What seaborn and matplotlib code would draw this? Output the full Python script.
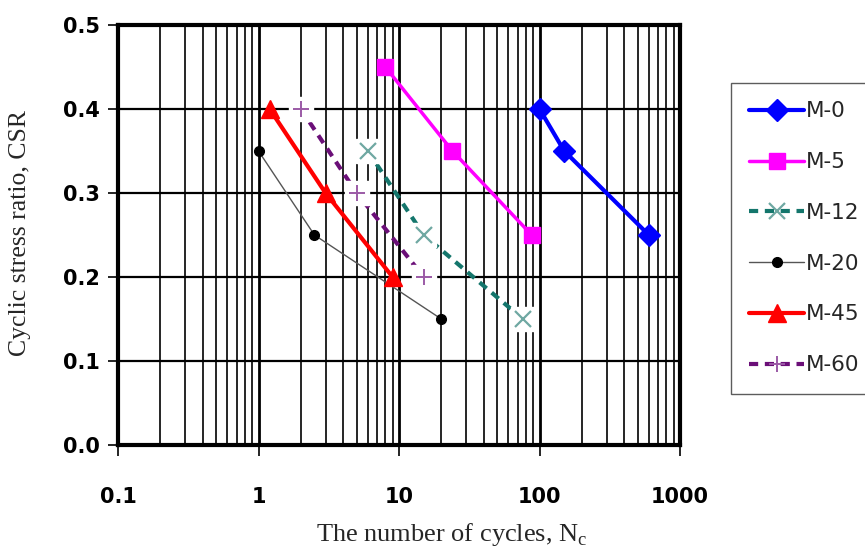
import matplotlib
matplotlib.use("Agg")
import matplotlib.pyplot as plt
import matplotlib.ticker as mticker
import numpy as np
import pandas as pd
import seaborn as sns

# Cyclic stress ratio versus number of cycles to liquefaction
series_names = ["M-0", "M-5", "M-12", "M-20", "M-45", "M-60"]
m0_cycles = [100, 150, 600]
m0_csr = [0.40, 0.35, 0.25]
m5_cycles = [8, 24, 88]
m5_csr = [0.45, 0.35, 0.25]
m12_cycles = [6, 15, 76]
m12_csr = [0.35, 0.25, 0.15]
m20_cycles = [1.0, 2.5, 20]
m20_csr = [0.35, 0.25, 0.15]
m45_cycles = [1.2, 3, 9]
m45_csr = [0.40, 0.30, 0.20]
m60_cycles = [2, 5, 15]
m60_csr = [0.40, 0.30, 0.20]

cycles = [m0_cycles, m5_cycles, m12_cycles, m20_cycles, m45_cycles, m60_cycles]
csr = [m0_csr, m5_csr, m12_csr, m20_csr, m45_csr, m60_csr]

styles = {
    "M-0":  dict(color="#0000FF", lw=3.0, ls="-", marker="D", ms=11, mfc="#0000FF", mec="#0000FF", mew=1, halo=False),
    "M-5":  dict(color="#FF00FF", lw=2.5, ls="-", marker="s", ms=12, mfc="#FF00FF", mec="#FF00FF", mew=1, halo=False),
    "M-12": dict(color="#14766C", lw=3.0, ls=(0, (2.2, 1.6)), marker="x", ms=12, mfc="#6FA8A2", mec="#6FA8A2", mew=1.6, halo=True),
    "M-20": dict(color="#555555", lw=1.0, ls="-", marker="o", ms=7, mfc="black", mec="black", mew=1, halo=False),
    "M-45": dict(color="#FF0000", lw=3.0, ls="-", marker="^", ms=13, mfc="#FF0000", mec="#FF0000", mew=1, halo=False),
    "M-60": dict(color="#6B0F78", lw=3.0, ls=(0, (2.2, 1.6)), marker="+", ms=12, mfc="#9B5AA6", mec="#9B5AA6", mew=1.4, halo=True),
}

frames = []
for name, xs, ys in zip(series_names, cycles, csr):
    frames.append(pd.DataFrame({"series": name, "N": xs, "CSR": ys}))
df = pd.concat(frames, ignore_index=True)

sns.set_style("white")
plt.rcParams["font.family"] = ["DejaVu Sans"]

fig = plt.figure(figsize=(8.65, 5.5), dpi=100)
ax = fig.add_axes([118 / 865, 1 - 445 / 550, (680 - 118) / 865, (445 - 25) / 550])

for name in series_names:
    st = styles[name]
    sub = df[df["series"] == name]
    sns.lineplot(data=sub, x="N", y="CSR", ax=ax, color=st["color"], lw=st["lw"],
                 linestyle=st["ls"], marker=st["marker"], markersize=st["ms"],
                 markerfacecolor=st["mfc"], markeredgecolor=st["mec"],
                 markeredgewidth=st["mew"], label=name, zorder=4, estimator=None,
                 sort=False)
    if st["halo"]:
        # white patch behind open markers, as in spreadsheet-style charts
        ax.plot(sub["N"], sub["CSR"], ls="none", marker="s", ms=17,
                mfc="white", mec="white", zorder=4.5)
        ax.plot(sub["N"], sub["CSR"], ls="none", marker=st["marker"], ms=st["ms"],
                mec=st["mec"], mew=st["mew"], zorder=5)

ax.set_xscale("log")
ax.set_xlim(0.1, 1000)
ax.set_ylim(0.0, 0.5)

ax.xaxis.set_major_locator(mticker.LogLocator(base=10, numticks=10))
ax.xaxis.set_minor_locator(mticker.LogLocator(base=10, subs=np.arange(2, 10), numticks=20))
ax.xaxis.set_major_formatter(mticker.FuncFormatter(lambda v, p: f"{v:g}"))
ax.xaxis.set_minor_formatter(mticker.NullFormatter())
ax.yaxis.set_major_locator(mticker.MultipleLocator(0.1))
ax.yaxis.set_major_formatter(mticker.FormatStrFormatter("%.1f"))

ax.grid(True, which="major", axis="x", color="black", lw=2.0)
ax.grid(True, which="major", axis="y", color="black", lw=1.6)
ax.grid(True, which="minor", axis="x", color="black", lw=1.2)
ax.set_axisbelow(True)

for sp in ax.spines.values():
    sp.set_visible(True)
    sp.set_color("black")
    sp.set_linewidth(3)
    sp.set_zorder(6)

ax.tick_params(axis="x", which="major", direction="out", length=8, width=1.2,
               pad=22, labelsize=15, bottom=True, colors="black")
ax.tick_params(axis="x", which="minor", length=0)
ax.tick_params(axis="y", which="major", direction="out", length=7, width=1.2,
               pad=6, labelsize=15, left=True, colors="black")
for lab in ax.get_xticklabels() + ax.get_yticklabels():
    lab.set_fontweight("bold")

ax.set_xlabel("The number of cycles, N$_\\mathregular{c}$", family="Liberation Serif",
              fontsize=19, labelpad=10)
ax.xaxis.label.set_x(0.594)
ax.set_ylabel("Cyclic stress ratio, CSR", family="Liberation Serif", fontsize=18.5,
              labelpad=23)
ax.yaxis.label.set_y(0.505)

# one legend entry per series (the halo/marker overlays carry no label)
handles, labels = ax.get_legend_handles_labels()
keep = [(h, l) for h, l in zip(handles, labels) if l in series_names]
leg = ax.legend([h for h, _ in keep], [l for _, l in keep], loc="upper left",
                bbox_to_anchor=(731 / 865, 1 - 83 / 550),
                bbox_transform=fig.transFigure, borderaxespad=0, frameon=True,
                fancybox=False, edgecolor="#333333", fontsize=15.5,
                handlelength=2.55, handletextpad=0.1, labelspacing=1.43,
                borderpad=0.85)
leg.get_frame().set_linewidth(1.0)
for txt in leg.get_texts():
    txt.set_clip_on(False)

fig.savefig("out.png", dpi=100)
